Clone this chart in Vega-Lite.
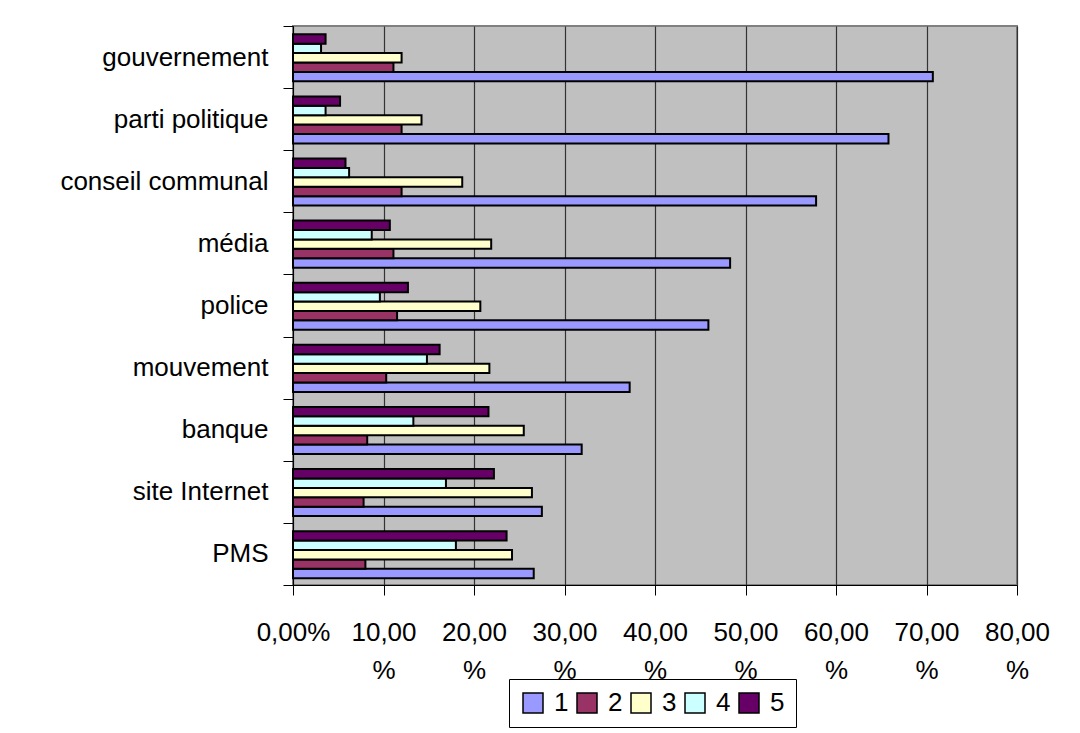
{
  "$schema": "https://vega.github.io/schema/vega-lite/v6.json",
  "width": 724,
  "height": 559,
  "autosize": {"type": "none"},
  "padding": {"left": 293, "top": 26, "right": 63, "bottom": 148},
  "background": "white",
  "data": {
    "values": [
      {"category": "gouvernement\u00a0", "series": "1", "value": 70.7},
      {"category": "gouvernement\u00a0", "series": "2", "value": 11.1},
      {"category": "gouvernement\u00a0", "series": "3", "value": 12.0},
      {"category": "gouvernement\u00a0", "series": "4", "value": 3.1},
      {"category": "gouvernement\u00a0", "series": "5", "value": 3.6},
      {"category": "parti politique", "series": "1", "value": 65.8},
      {"category": "parti politique", "series": "2", "value": 12.0},
      {"category": "parti politique", "series": "3", "value": 14.2},
      {"category": "parti politique", "series": "4", "value": 3.6},
      {"category": "parti politique", "series": "5", "value": 5.2},
      {"category": "conseil communal", "series": "1", "value": 57.8},
      {"category": "conseil communal", "series": "2", "value": 12.0},
      {"category": "conseil communal", "series": "3", "value": 18.7},
      {"category": "conseil communal", "series": "4", "value": 6.2},
      {"category": "conseil communal", "series": "5", "value": 5.8},
      {"category": "média", "series": "1", "value": 48.3},
      {"category": "média", "series": "2", "value": 11.1},
      {"category": "média", "series": "3", "value": 21.9},
      {"category": "média", "series": "4", "value": 8.7},
      {"category": "média", "series": "5", "value": 10.7},
      {"category": "police", "series": "1", "value": 45.9},
      {"category": "police", "series": "2", "value": 11.5},
      {"category": "police", "series": "3", "value": 20.7},
      {"category": "police", "series": "4", "value": 9.6},
      {"category": "police", "series": "5", "value": 12.7},
      {"category": "mouvement\u00a0", "series": "1", "value": 37.2},
      {"category": "mouvement\u00a0", "series": "2", "value": 10.3},
      {"category": "mouvement\u00a0", "series": "3", "value": 21.7},
      {"category": "mouvement\u00a0", "series": "4", "value": 14.8},
      {"category": "mouvement\u00a0", "series": "5", "value": 16.2},
      {"category": "banque", "series": "1", "value": 31.9},
      {"category": "banque", "series": "2", "value": 8.2},
      {"category": "banque", "series": "3", "value": 25.5},
      {"category": "banque", "series": "4", "value": 13.3},
      {"category": "banque", "series": "5", "value": 21.6},
      {"category": "site Internet", "series": "1", "value": 27.5},
      {"category": "site Internet", "series": "2", "value": 7.8},
      {"category": "site Internet", "series": "3", "value": 26.4},
      {"category": "site Internet", "series": "4", "value": 16.9},
      {"category": "site Internet", "series": "5", "value": 22.2},
      {"category": "PMS", "series": "1", "value": 26.6},
      {"category": "PMS", "series": "2", "value": 8.0},
      {"category": "PMS", "series": "3", "value": 24.2},
      {"category": "PMS", "series": "4", "value": 18.0},
      {"category": "PMS", "series": "5", "value": 23.6}
    ]
  },
  "mark": {"type": "bar", "stroke": "black", "strokeWidth": 2},
  "encoding": {
    "y": {
      "field": "category",
      "type": "nominal",
      "sort": ["gouvernement\u00a0", "parti politique", "conseil communal", "média", "police", "mouvement\u00a0", "banque", "site Internet", "PMS"],
      "scale": {"paddingInner": 0, "paddingOuter": 0},
      "axis": {
        "title": null,
        "tickBand": "extent",
        "tickSize": 10,
        "tickColor": "black",
        "domainColor": "black",
        "labelFontSize": 26,
        "labelColor": "black",
        "labelPadding": 15,
        "labelLimit": 400,
        "grid": false
      }
    },
    "x": {
      "field": "value",
      "type": "quantitative",
      "scale": {"domain": [0, 80], "nice": false},
      "axis": {
        "title": null,
        "values": [0, 10, 20, 30, 40, 50, 60, 70, 80],
        "grid": true,
        "gridColor": "#333333",
        "gridWidth": 1.2,
        "domainColor": "black",
        "tickColor": "black",
        "tickSize": 10,
        "labelFontSize": 26,
        "labelColor": "black",
        "labelLineHeight": 38,
        "labelPadding": 24,
        "labelFlush": false,
        "labelOverlap": false,
        "labelExpr": "datum.value == 0 ? '0,00%' : [replace(format(datum.value, '.2f'), '.', ','), '%']"
      }
    },
    "yOffset": {
      "field": "series",
      "type": "nominal",
      "sort": ["5", "4", "3", "2", "1"],
      "scale": {"paddingOuter": 0.8, "paddingInner": 0, "align": 0.55}
    },
    "color": {
      "field": "series",
      "type": "nominal",
      "scale": {"domain": ["1", "2", "3", "4", "5"], "range": ["#9999FF", "#993366", "#FFFFCC", "#CCFFFF", "#660066"]},
      "legend": {
        "title": null,
        "orient": "none",
        "direction": "horizontal",
        "legendX": 216,
        "legendY": 653,
        "symbolType": "square",
        "symbolSize": 400,
        "symbolStrokeColor": "black",
        "symbolStrokeWidth": 1.5,
        "symbolOpacity": 1,
        "labelFontSize": 26,
        "labelColor": "black",
        "labelOffset": 8,
        "columnPadding": 5,
        "padding": 11,
        "strokeColor": "black",
        "fillColor": "white"
      }
    }
  },
  "config": {
    "font": "Liberation Sans",
    "view": {"fill": "#C0C0C0", "stroke": "#808080", "strokeWidth": 2}
  }
}
